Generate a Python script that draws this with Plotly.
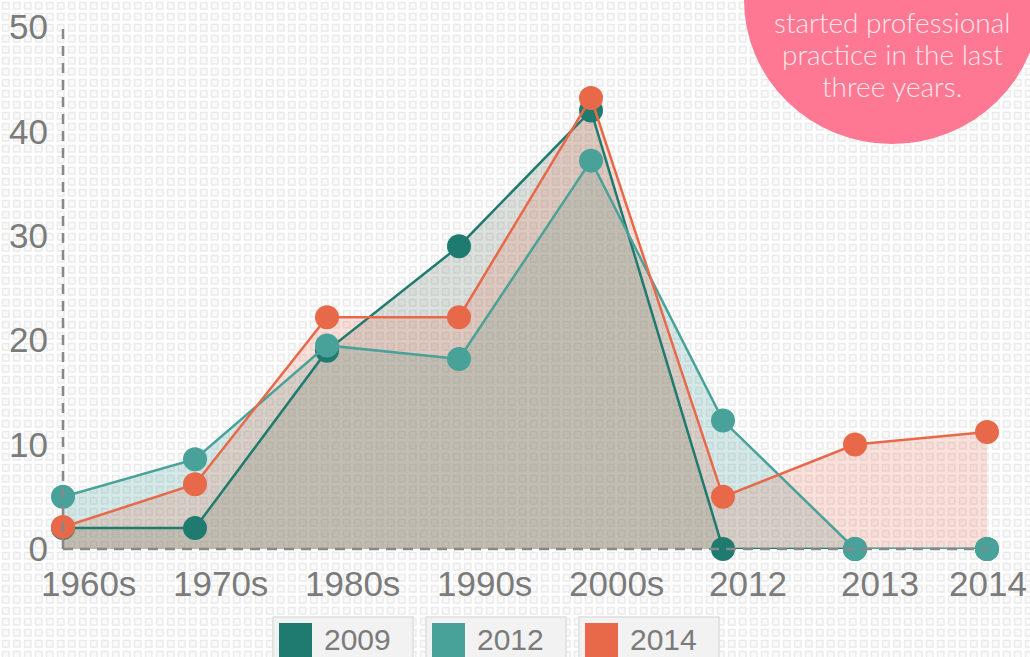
import base64
import plotly.graph_objects as go

# ---- data ----
categories = ["1960s", "1970s", "1980s", "1990s", "2000s", "2012", "2013", "2014"]
series_names = ["2009", "2012", "2014"]
values_2009 = [2, 2, 19, 29, 42, 0, 0, 0]
values_2012 = [5, 8.6, 19.5, 18.2, 37.2, 12.3, 0, 0]
values_2014 = [2.1, 6.2, 22.2, 22.2, 43.2, 5, 10, 11.2]
y_ticks = [0, 10, 20, 30, 40, 50]
bubble_lines = ["started professional", "practice in the last", "three years."]

series_values = [values_2009, values_2012, values_2014]
line_colors = ["#1f7b6f", "#48a299", "#e8694a"]
fill_colors = ["rgba(105,125,108,0.23)", "rgba(74,163,154,0.23)", "rgba(232,105,74,0.2)"]
TEXT = "#7b7b7b"

W, H = 1030, 657
# plot area in window pixels: x 63..987, y 27..549
ML, MT = 63, 27
MR, MB = W - 987, H - 549
PW, PH = W - ML - MR, H - MT - MB


def px_x(p):  # window pixel -> paper
    return (p - ML) / PW


def px_y(p):
    return (H - MB - p) / PH


xs = list(range(len(categories)))
fig = go.Figure()
# fills first
for name, vals, fc in zip(series_names, series_values, fill_colors):
    fig.add_trace(go.Scatter(
        x=xs, y=vals, name=name, mode="lines",
        line=dict(width=0, color=fc),
        fill="tozeroy", fillcolor=fc,
        showlegend=False, hoverinfo="skip",
    ))
# lines and markers on top
for name, vals, lc in zip(series_names, series_values, line_colors):
    fig.add_trace(go.Scatter(
        x=xs, y=vals, name=name, mode="lines+markers",
        line=dict(color=lc, width=2.5),
        marker=dict(color=lc, size=24),
        cliponaxis=False, showlegend=False,
    ))

# background pattern
svg = (
    f'<svg xmlns="http://www.w3.org/2000/svg" width="{W}" height="{H}">'
    '<defs><pattern id="p" width="11" height="11" patternUnits="userSpaceOnUse">'
    '<rect x="2.5" y="2.5" width="6.5" height="6.5" fill="#fafafa" stroke="#ebebeb" stroke-width="1.5"/>'
    '</pattern></defs>'
    '<rect width="100%" height="100%" fill="#ffffff"/>'
    '<rect width="100%" height="100%" fill="url(#p)"/></svg>'
)
src = "data:image/svg+xml;base64," + base64.b64encode(svg.encode()).decode()

shapes = []
# dashed axes
shapes.append(dict(type="line", xref="paper", yref="paper", x0=0, x1=0, y0=0, y1=1,
                   line=dict(color="#888888", width=2.5, dash="10px,7px"), layer="above"))
shapes.append(dict(type="line", xref="paper", yref="paper", x0=0, x1=1, y0=0, y1=0,
                   line=dict(color="#888888", width=2.5, dash="10px,7px"), layer="above"))
# pink bubble
cx, cy, rx, ry = 892, 0, 148, 144
shapes.append(dict(type="circle", xref="paper", yref="paper",
                   x0=px_x(cx - rx), x1=px_x(cx + rx), y0=px_y(cy + ry), y1=px_y(cy - ry),
                   fillcolor="#ff7893", line=dict(width=0), layer="above"))

annotations = []
for i, t in enumerate(bubble_lines):
    annotations.append(dict(
        text=t, xref="paper", yref="paper", x=px_x(cx), y=px_y(22 + i * 32),
        xanchor="center", yanchor="middle", showarrow=False,
        font=dict(family="Lato", size=28, color="#fde6eb", weight=300),
    ))

# category labels (offset to the right of their points, last one kept inside the page)
for i, c in enumerate(categories):
    last = i == len(categories) - 1
    annotations.append(dict(
        text=c, xref="paper" if last else "x", yref="paper",
        x=px_x(W - 1) if last else i, xshift=0 if last else 25,
        y=px_y(583), xanchor="right" if last else "center", yanchor="middle",
        showarrow=False, font=dict(family="Liberation Sans, Arial", size=35, color=TEXT),
    ))

# manual legend
for i, (name, lc) in enumerate(zip(series_names, line_colors)):
    bx = 273 + i * 153
    shapes.append(dict(type="rect", xref="paper", yref="paper",
                       x0=px_x(bx), x1=px_x(bx + 140), y0=px_y(680), y1=px_y(617),
                       fillcolor="#f2f2f2", line=dict(color="#dedede", width=1.5), layer="above"))
    shapes.append(dict(type="rect", xref="paper", yref="paper",
                       x0=px_x(bx + 6), x1=px_x(bx + 39), y0=px_y(670), y1=px_y(623),
                       fillcolor=lc, line=dict(width=0), layer="above"))
    annotations.append(dict(
        text=name, xref="paper", yref="paper", x=px_x(bx + 49), y=px_y(639),
        xanchor="left", yanchor="middle", showarrow=False,
        font=dict(family="Liberation Sans, Arial", size=30, color=TEXT),
    ))

fig.update_layout(
    width=W, height=H,
    margin=dict(l=ML, r=MR, t=MT, b=MB, pad=0, autoexpand=False),
    paper_bgcolor="white", plot_bgcolor="rgba(0,0,0,0)",
    showlegend=False, hovermode=False,
    font=dict(family="Liberation Sans, Arial", color=TEXT),
    images=[dict(source=src, xref="paper", yref="paper",
                 x=-ML / PW, y=1 + MT / PH, sizex=W / PW, sizey=H / PH,
                 xanchor="left", yanchor="top", sizing="stretch", layer="below")],
    shapes=shapes, annotations=annotations,
    xaxis=dict(range=[0, len(categories) - 1], tickmode="array", tickvals=xs,
               showticklabels=False,
               showgrid=False, zeroline=False, showline=False, ticks="", automargin=False,
               fixedrange=True),
    yaxis=dict(range=[0, 50], tickmode="array", tickvals=y_ticks,
               showgrid=False, zeroline=False, showline=False, ticks="", automargin=False,
               ticklabeloverflow="allow",
               tickfont=dict(size=35, color=TEXT), ticklabelstandoff=14, fixedrange=True),
)

fig.write_html("out.html", config={"displayModeBar": False},
               post_script="document.body.style.margin='0';document.body.style.overflow='hidden';")
